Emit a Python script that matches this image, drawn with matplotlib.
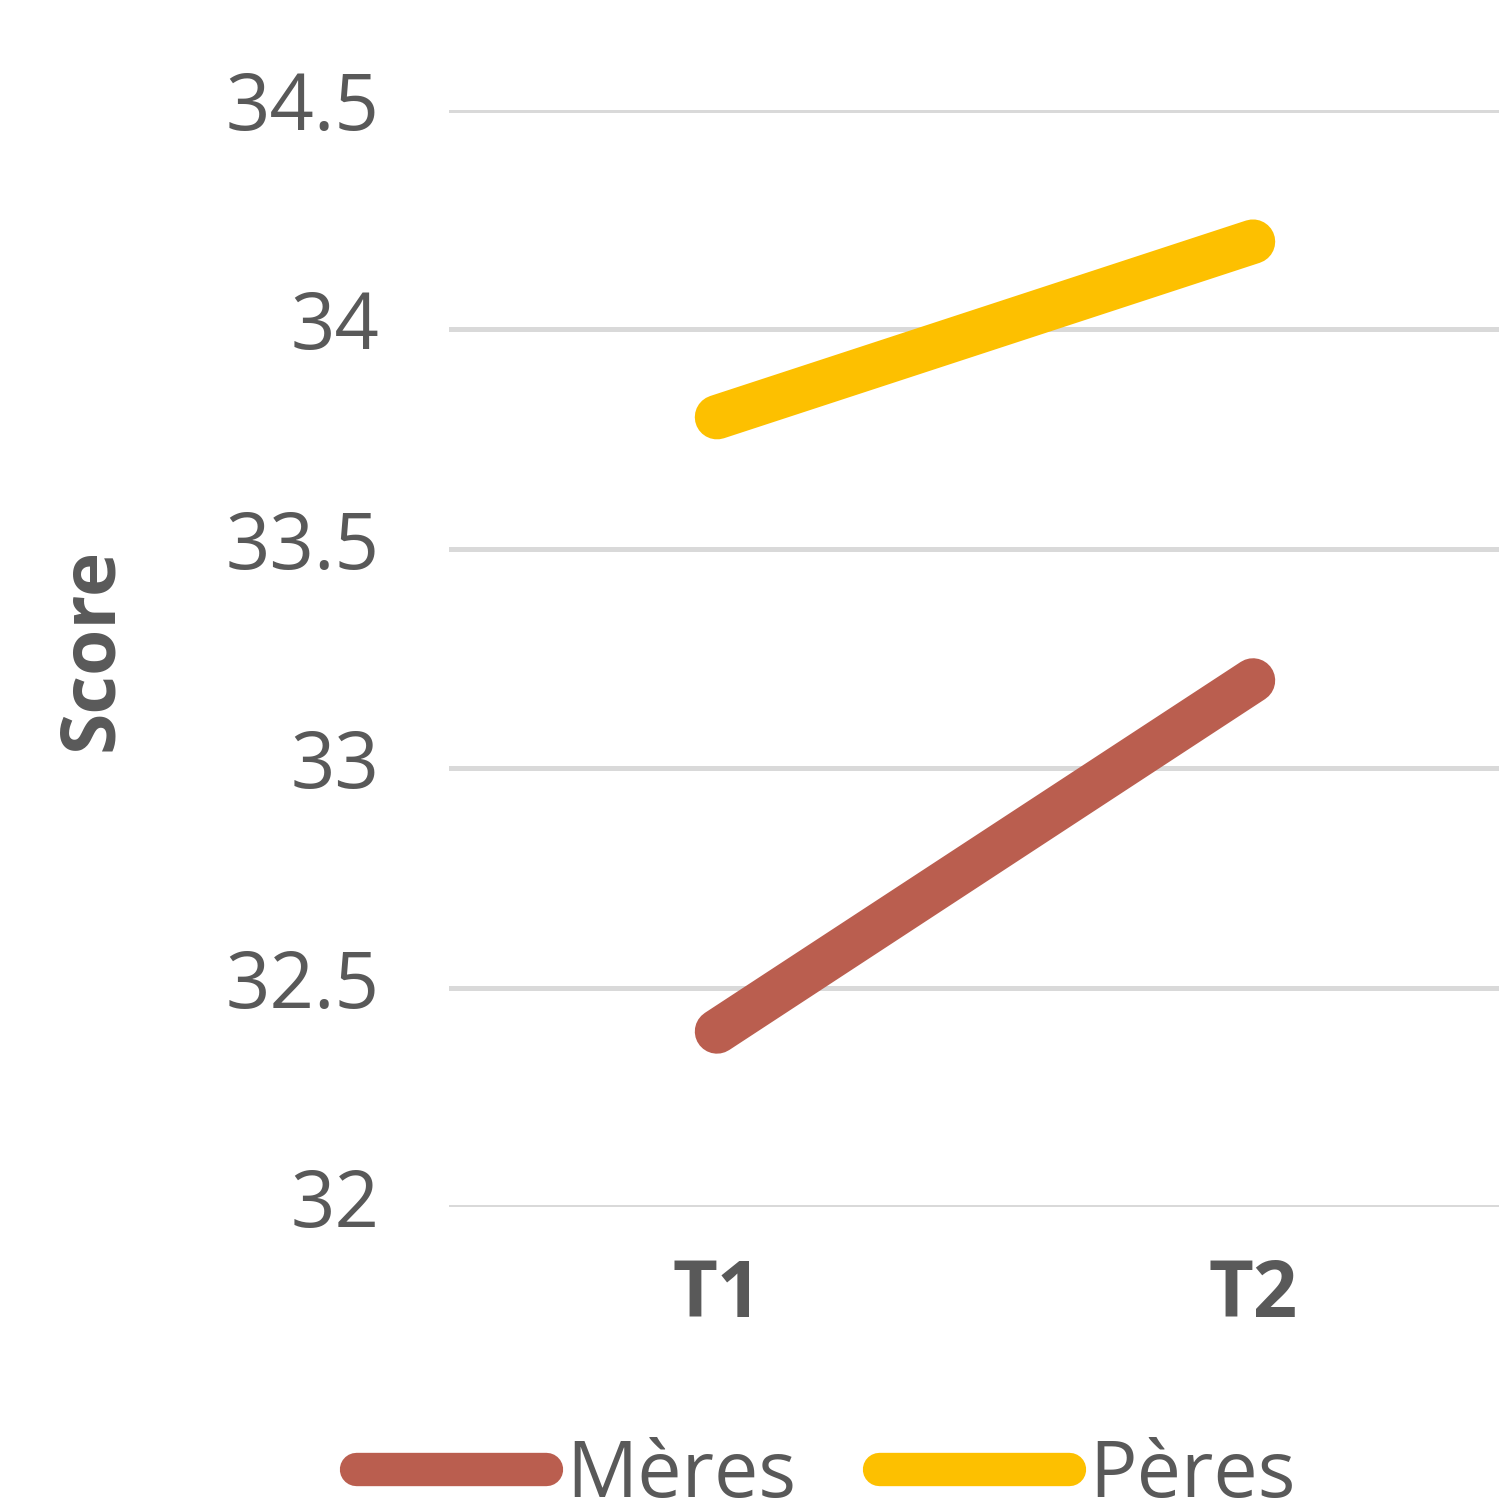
import matplotlib
matplotlib.use("Agg")
import matplotlib.pyplot as plt
import matplotlib.transforms as mtransforms

# data
periods = ["T1", "T2"]
meres = [32.4, 33.2]
peres = [33.8, 34.2]
series_names = ["Mères", "Pères"]
yticks = [32, 32.5, 33, 33.5, 34, 34.5]
ytick_labels = ["32", "32.5", "33", "33.5", "34", "34.5"]

plt.rcParams['font.family'] = ['Open Sans', 'DejaVu Sans']
grey = '#595959'

fig = plt.figure(figsize=(14.99, 14.99), dpi=100, facecolor='white')
# plot area runs past the right edge, like the cropped original
ax = fig.add_axes([449 / 1499, 1 - 1207 / 1499, 1072 / 1499, 1097 / 1499])

x = list(range(len(periods)))
ax.plot(x, meres, color='#BA5E4F', lw=32, solid_capstyle='round', label=series_names[0], zorder=3)
ax.plot(x, peres, color='#FDC000', lw=32, solid_capstyle='round', label=series_names[1], zorder=3)

ax.set_xlim(-0.5, 1.5)
ax.set_ylim(32, 34.5)
ax.set_xticks(x)
ax.set_xticklabels(periods, fontsize=56, fontweight='bold', color=grey)
ax.set_yticks(yticks)
ax.set_yticklabels(ytick_labels, fontsize=56, color=grey)
ax.tick_params(axis='y', length=0, pad=50)
ax.tick_params(axis='x', length=0, pad=36)

# y labels sit a little above their gridline
shift = mtransforms.ScaledTranslation(0, 0.1, fig.dpi_scale_trans)
for lab in ax.get_yticklabels():
    lab.set_transform(lab.get_transform() + shift)

ax.grid(axis='y', color='#D9D9D9', lw=3.6, zorder=0)
ax.set_axisbelow(True)
for s in ax.spines.values():
    s.set_visible(False)

fig.text(92 / 1499, 1 - 649 / 1499, "Score", rotation=90, ha='center', va='center',
         fontsize=54, fontweight='bold', color=grey)

leg = fig.legend(loc='center', bbox_to_anchor=(826 / 1499, 1 - 1476 / 1499), ncol=2,
                 frameon=False, fontsize=57, labelcolor=grey, handlelength=2.4,
                 handletextpad=0.25, columnspacing=1.05, borderpad=0, borderaxespad=0)
for ln in leg.get_lines():
    ln.set_linewidth(24)

fig.savefig("out.png", dpi=100, facecolor='white')
